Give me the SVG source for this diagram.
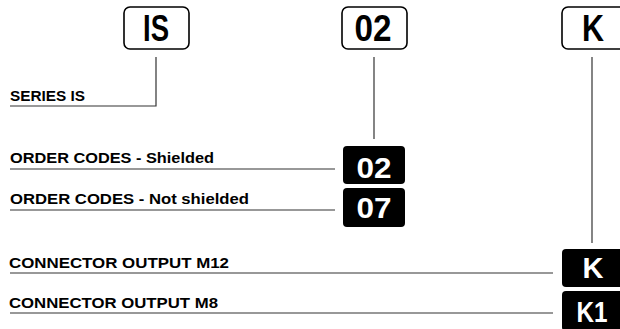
<svg xmlns="http://www.w3.org/2000/svg" width="620" height="329" viewBox="0 0 620 329">
<style>
.box{fill:#fff;stroke:#000;stroke-width:1.6}
.blk{fill:#000}
.big{font-family:"Liberation Sans",Arial,sans-serif;font-weight:bold;font-size:36px;fill:#000;text-anchor:middle}
.inv{font-family:"Liberation Sans",Arial,sans-serif;font-weight:bold;font-size:30px;fill:#fff;text-anchor:middle}
.lbl{font-family:"Liberation Sans",Arial,sans-serif;font-weight:bold;font-size:15px;fill:#000}
.ln{fill:none;stroke:#333;stroke-width:1.2}
</style>
<rect width="620" height="329" fill="#fff"/>
<g id="connectors">
<path class="ln" d="M156,57 V106 H10"/>
<path class="ln" d="M374,57 V139"/>
<path class="ln" d="M10,169 H335"/>
<path class="ln" d="M10,210 H335"/>
<path class="ln" d="M592,57 V243"/>
<path class="ln" d="M10,273 H553"/>
<path class="ln" d="M10,313 H553"/>
</g>
<g id="box-IS"><rect class="box" x="124" y="7" width="65" height="42" rx="6"/><text class="big" x="156" y="41" textLength="26" lengthAdjust="spacingAndGlyphs">IS</text></g>
<g id="box-02"><rect class="box" x="342" y="7" width="65" height="42" rx="6"/><text class="big" x="373" y="41" textLength="37" lengthAdjust="spacingAndGlyphs">02</text></g>
<g id="box-K"><rect class="box" x="562" y="7" width="66" height="42" rx="6"/><text class="big" x="593" y="41" textLength="22" lengthAdjust="spacingAndGlyphs">K</text></g>
<g id="series"><text class="lbl" x="10" y="101" textLength="75" lengthAdjust="spacingAndGlyphs">SERIES IS</text></g>
<g id="order-shielded"><text class="lbl" x="10" y="163" textLength="204" lengthAdjust="spacingAndGlyphs">ORDER CODES - Shielded</text><rect class="blk" x="343" y="146" width="62" height="38" rx="4"/><text class="inv" x="374" y="178" textLength="35" lengthAdjust="spacingAndGlyphs">02</text></g>
<g id="order-notshielded"><text class="lbl" x="10" y="204" textLength="239" lengthAdjust="spacingAndGlyphs">ORDER CODES - Not shielded</text><rect class="blk" x="343" y="188" width="62" height="39" rx="4"/><text class="inv" x="374" y="218" textLength="35" lengthAdjust="spacingAndGlyphs">07</text></g>
<g id="m12"><text class="lbl" x="9" y="268" textLength="220" lengthAdjust="spacingAndGlyphs">CONNECTOR OUTPUT M12</text><rect class="blk" x="562" y="249" width="66" height="38" rx="4"/><text class="inv" x="593" y="278" textLength="21" lengthAdjust="spacingAndGlyphs">K</text></g>
<g id="m8"><text class="lbl" x="9" y="308" textLength="209" lengthAdjust="spacingAndGlyphs">CONNECTOR OUTPUT M8</text><rect class="blk" x="562" y="291" width="66" height="40" rx="4"/><text class="inv" x="592" y="322" textLength="31" lengthAdjust="spacingAndGlyphs">K1</text></g>
</svg>
